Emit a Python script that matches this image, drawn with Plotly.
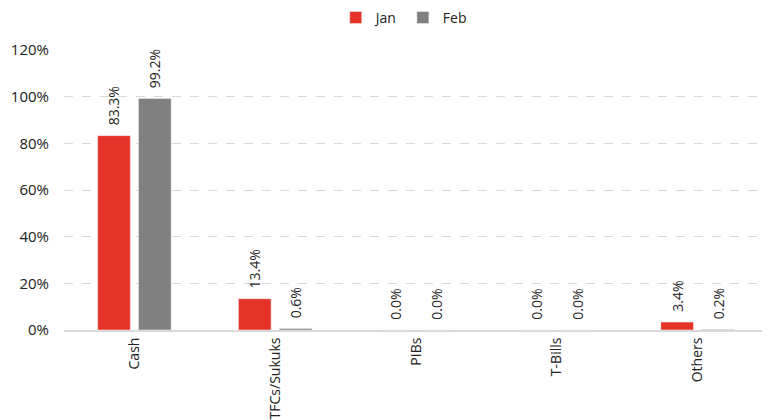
import plotly.graph_objects as go

categories = ["Cash", "TFCs/Sukuks", "PIBs", "T-Bills", "Others"]
jan = [0.833, 0.134, 0.0, 0.0, 0.034]
feb = [0.992, 0.006, 0.0, 0.0, 0.002]

RED = "#E5332A"
GREY = "#808080"
FONT = "'Open Sans', Lato, sans-serif"

fig = go.Figure()
for name, vals, color in [("Jan", jan, RED), ("Feb", feb, GREY)]:
    fig.add_trace(go.Bar(
        x=categories,
        y=vals,
        name=name,
        marker=dict(color=color, line=dict(color="#f0f0f0", width=0.5)),
        text=["\u00a0\u00a0" + f"{v * 100:.1f}%" for v in vals],
        textposition="outside",
        textangle=-90,
        textfont=dict(size=14, color="#222222", family=FONT),
        cliponaxis=False,
    ))

# page body adds an 8px offset, so the figure is sized 8px smaller
fig.update_layout(
    width=762,
    height=412,
    barmode="group",
    bargap=0.42,
    bargroupgap=0.2,
    plot_bgcolor="white",
    paper_bgcolor="white",
    font=dict(family=FONT, size=14, color="#222222"),
    margin=dict(l=56, r=2, t=42, b=90),
    legend=dict(
        orientation="h",
        x=0.386,
        xanchor="left",
        yref="container",
        y=0.976,
        yanchor="middle",
        font=dict(size=14),
        itemwidth=30,
        tracegroupgap=0,
    ),
    uniformtext=dict(minsize=14, mode="show"),
)
fig.update_xaxes(
    tickangle=-90,
    tickfont=dict(size=14),
    showline=True,
    linecolor="#d9d9d9",
    linewidth=2,
    ticks="",
    automargin=False,
)
fig.update_yaxes(
    range=[0, 1.2],
    dtick=0.2,
    tickformat=".0%",
    showgrid=True,
    gridcolor="#d9d9d9",
    griddash="dash",
    zeroline=False,
    tickfont=dict(size=15),
    ticklabelstandoff=14,
    automargin=False,
)

fig.write_html("out.html")
